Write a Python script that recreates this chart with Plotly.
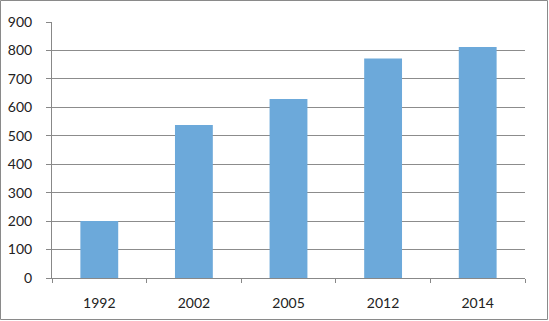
import plotly.graph_objects as go

years = ["1992", "2002", "2005", "2012", "2014"]
values = [200, 538, 629, 772, 812]

W, H = 549, 321
L, R, T, B = 52, 24, 22, 43
pw, ph = W - L - R, H - T - B

fig = go.Figure(go.Bar(x=years, y=values, marker=dict(color="#6CA9DA", line=dict(width=0)), width=0.4))

fig.update_layout(
    width=W, height=H,
    margin=dict(l=L, r=R, t=T, b=B),
    paper_bgcolor="white", plot_bgcolor="white",
    showlegend=False,
    font=dict(family="Lato, Open Sans, sans-serif", size=14, color="#222"),
    xaxis=dict(type="category", showline=True, linecolor="#888", linewidth=1,
               ticks="outside", ticklen=4, tickcolor="#888", tickson="boundaries",
               showgrid=False, ticklabelstandoff=12, automargin=False),
    yaxis=dict(range=[0, 900], dtick=100, showline=True, linecolor="#888", linewidth=1,
               ticks="outside", ticklen=5, tickcolor="#888",
               gridcolor="#8c8c8c", gridwidth=1, zeroline=False, ticklabelstandoff=11,
               automargin=False),
    shapes=[dict(type="rect", xref="paper", yref="paper",
                 x0=(0.5 - L) / pw, x1=(W - 1.5 - L) / pw,
                 y0=-(B - 1.5) / ph, y1=1 + (T - 0.5) / ph,
                 line=dict(color="#8a8a8a", width=1))],
)

fig.write_html("out.html")
